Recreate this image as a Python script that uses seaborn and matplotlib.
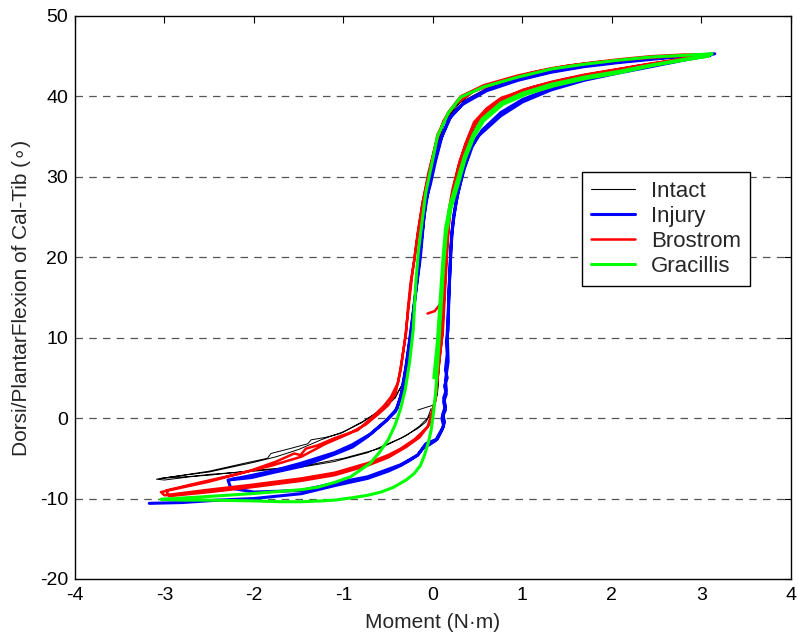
import numpy as np
import pandas as pd
import matplotlib
matplotlib.use("Agg")
import matplotlib.pyplot as plt
import seaborn as sns
from matplotlib.lines import Line2D

sns.set_theme(style="white")
plt.rcParams["font.family"] = ["Liberation Sans", "DejaVu Sans"]
plt.rcParams["axes.unicode_minus"] = False

# Intact (black)
intact_start = [(-0.17, 1.0), (0.0, 1.6), (0.05, 3.0), (0.08, 8.0), (0.11, 14.0), (0.14, 20.0),
                (0.18, 25.0), (0.24, 28.5), (0.32, 32.0), (0.42, 35.0), (0.55, 37.3), (0.76, 39.2),
                (1.13, 40.9), (1.5, 42.0), (1.88, 42.9), (2.3, 43.8), (2.7, 44.5), (3.05, 45.1)]
intact_unload1 = [(3.05, 45.1), (2.7, 45.0), (2.3, 44.7), (1.88, 44.2), (1.5, 43.6), (1.13, 42.9),
                  (0.76, 41.9), (0.45, 40.5), (0.25, 38.8), (0.12, 36.5), (0.03, 33.5), (-0.04, 30.0),
                  (-0.1, 26.0), (-0.15, 21.0), (-0.2, 16.0), (-0.24, 11.0), (-0.29, 7.0), (-0.35, 4.0),
                  (-0.45, 2.2), (-0.62, 0.7), (-0.8, -0.6), (-1.03, -1.9), (-1.2, -2.4), (-1.36, -2.7),
                  (-1.4, -3.2), (-1.6, -3.8), (-1.81, -4.4), (-1.85, -5.0), (-2.1, -5.6), (-2.5, -6.6),
                  (-3.09, -7.6)]
intact_load1 = [(-3.09, -7.6), (-3.0, -7.7), (-2.5, -7.0), (-2.0, -6.6), (-1.47, -6.1), (-1.1, -5.4),
                (-0.73, -4.3), (-0.36, -2.5), (-0.17, -1.3), (-0.08, -0.5), (0.0, 1.0), (0.05, 3.0),
                (0.08, 8.0), (0.12, 15.0), (0.15, 21.0), (0.19, 25.5), (0.25, 29.0), (0.33, 32.5),
                (0.44, 35.5), (0.58, 37.6), (0.8, 39.4), (1.13, 40.9), (1.5, 42.0), (1.88, 42.9),
                (2.3, 43.8), (2.7, 44.4), (3.0, 44.9)]
intact_unload2 = [(3.0, 44.9), (2.5, 44.8), (2.0, 44.3), (1.5, 43.5), (1.0, 42.4), (0.6, 41.0),
                  (0.3, 39.2), (0.13, 36.8), (0.02, 33.0), (-0.06, 29.0), (-0.12, 24.0), (-0.17, 19.0),
                  (-0.22, 13.0), (-0.27, 8.0), (-0.33, 4.5), (-0.42, 2.5), (-0.6, 0.9), (-0.78, -0.4),
                  (-1.0, -1.7), (-1.25, -2.7), (-1.5, -3.9), (-1.75, -4.8), (-2.0, -5.5), (-2.5, -6.7),
                  (-3.05, -7.5)]
intact_load2 = [(-3.05, -7.5), (-2.5, -7.1), (-2.0, -6.5), (-1.47, -6.0), (-1.0, -5.0), (-0.6, -3.8),
                (-0.3, -2.2), (-0.15, -1.0), (-0.06, 0.0), (-0.02, 1.2)]

# Injury (blue)
injury_load1 = [(-3.17, -10.6), (-2.8, -10.5), (-2.4, -10.2), (-2.0, -10.0), (-1.47, -9.4), (-1.1, -8.4),
                (-0.73, -7.5), (-0.5, -6.6), (-0.36, -5.9), (-0.25, -5.2), (-0.17, -4.6), (-0.1, -3.6),
                (-0.04, -3.3), (0.03, -2.8), (0.08, -1.8), (0.12, -1.0), (0.1, 0.0), (0.14, 1.0),
                (0.12, 2.0), (0.15, 3.0), (0.13, 4.0), (0.16, 5.0), (0.14, 6.0), (0.16, 8.0),
                (0.15, 9.5), (0.17, 11.0), (0.18, 16.0), (0.2, 21.0), (0.23, 25.0), (0.28, 28.0),
                (0.35, 31.0), (0.44, 33.8), (0.55, 35.8), (0.76, 38.0), (1.0, 39.6), (1.32, 41.0),
                (1.69, 42.2), (2.07, 43.0), (2.44, 43.8), (2.8, 44.6), (3.15, 45.3)]
injury_unload1 = [(3.15, 45.3), (2.8, 45.0), (2.44, 44.7), (2.07, 44.3), (1.69, 43.8), (1.32, 43.1),
                  (0.95, 42.1), (0.6, 40.8), (0.35, 39.3), (0.2, 37.5), (0.1, 35.0), (0.03, 32.0),
                  (-0.03, 29.0), (-0.08, 27.0), (-0.12, 23.0), (-0.16, 18.8), (-0.21, 14.0),
                  (-0.25, 10.6), (-0.3, 6.5), (-0.36, 2.6), (-0.42, 0.8), (-0.55, -0.6), (-0.73, -2.3),
                  (-0.9, -3.6), (-1.1, -4.5), (-1.47, -6.0), (-1.8, -6.8), (-2.03, -7.4), (-2.29, -7.7)]
injury_load2 = [(-2.29, -7.7), (-2.26, -8.7), (-2.0, -9.2), (-1.47, -9.0), (-1.1, -8.1), (-0.73, -7.3),
                (-0.36, -5.8), (-0.17, -4.6), (-0.08, -3.2), (0.05, -2.6), (0.1, -1.5), (0.13, -0.5),
                (0.11, 0.5), (0.14, 1.5), (0.12, 2.5), (0.15, 3.5), (0.14, 4.7), (0.17, 7.0),
                (0.16, 10.6), (0.19, 18.0), (0.21, 23.0), (0.26, 27.0), (0.33, 30.5), (0.42, 33.5),
                (0.5, 35.0), (0.76, 37.6), (1.0, 39.3), (1.32, 40.8), (1.69, 42.0), (2.07, 42.9),
                (2.44, 43.7), (2.8, 44.5), (3.1, 45.1)]
injury_unload2 = [(3.1, 45.1), (2.8, 45.0), (2.44, 44.6), (2.07, 44.2), (1.69, 43.7), (1.32, 43.0),
                  (0.95, 42.0), (0.6, 40.7), (0.33, 39.0), (0.18, 37.2), (0.08, 34.5), (0.01, 31.5),
                  (-0.05, 28.5), (-0.1, 25.0), (-0.14, 20.0), (-0.2, 15.0), (-0.24, 11.0), (-0.29, 7.0),
                  (-0.34, 3.5), (-0.4, 1.2), (-0.52, -0.3), (-0.7, -2.0), (-0.9, -3.3), (-1.1, -4.3),
                  (-1.47, -5.6), (-1.8, -6.6), (-2.1, -7.3), (-2.25, -7.6)]

# Brostrom (red)
brostrom_start = [(-0.06, 13.0), (0.02, 13.3), (0.09, 14.3), (0.12, 18.0), (0.15, 21.5), (0.18, 26.0),
                  (0.22, 28.5), (0.3, 32.0), (0.4, 35.0), (0.5, 37.0), (0.76, 39.6), (1.0, 40.8),
                  (1.32, 41.8), (1.69, 42.7), (2.07, 43.4), (2.44, 44.1), (2.8, 44.7), (3.1, 45.2)]
brostrom_unload1 = [(3.1, 45.2), (2.8, 45.2), (2.44, 45.0), (2.07, 44.6), (1.69, 44.1), (1.32, 43.5),
                    (0.95, 42.6), (0.57, 41.4), (0.31, 40.0), (0.17, 38.0), (0.05, 35.2), (-0.03, 31.0),
                    (-0.11, 27.1), (-0.17, 23.0), (-0.21, 19.5), (-0.25, 16.8), (-0.28, 13.5),
                    (-0.3, 10.6), (-0.35, 7.0), (-0.39, 4.4), (-0.47, 2.6), (-0.55, 1.5), (-0.66, 0.3),
                    (-0.84, -1.5), (-1.1, -2.5), (-1.29, -3.4), (-1.42, -3.8), (-1.48, -4.6),
                    (-1.55, -4.4), (-1.75, -5.4), (-2.03, -6.5), (-2.5, -7.9), (-3.04, -9.2)]
brostrom_load1 = [(-3.04, -9.2), (-3.0, -9.6), (-2.5, -8.9), (-2.03, -8.3), (-1.47, -7.5), (-1.1, -6.8),
                  (-0.73, -5.6), (-0.5, -4.6), (-0.36, -3.8), (-0.2, -2.6), (-0.06, -1.1), (0.03, 2.2),
                  (0.05, 4.7), (0.08, 8.0), (0.11, 10.6), (0.15, 18.8), (0.18, 24.5), (0.21, 27.5),
                  (0.28, 31.0), (0.36, 34.0), (0.46, 36.8), (0.6, 38.5), (0.76, 39.8), (1.13, 41.2),
                  (1.5, 42.2), (1.88, 43.0), (2.3, 43.8), (2.7, 44.5), (3.05, 45.1)]
brostrom_unload2 = [(3.05, 45.1), (2.7, 45.0), (2.3, 44.7), (1.88, 44.3), (1.5, 43.8), (1.13, 43.0),
                    (0.76, 41.9), (0.45, 40.6), (0.25, 39.0), (0.12, 37.0), (0.03, 34.0), (-0.05, 30.5),
                    (-0.12, 26.5), (-0.18, 22.0), (-0.23, 18.0), (-0.27, 14.0), (-0.31, 10.0),
                    (-0.36, 6.0), (-0.42, 3.0), (-0.5, 1.6), (-0.6, 0.6), (-0.75, -0.8), (-0.95, -2.0),
                    (-1.2, -3.2), (-1.47, -4.8), (-1.8, -5.9), (-2.2, -7.0), (-2.6, -8.0), (-2.98, -9.0)]
brostrom_load2 = [(-2.98, -9.0), (-2.95, -9.7), (-2.5, -9.2), (-2.03, -8.6), (-1.47, -7.8), (-1.1, -7.1),
                  (-0.73, -5.9), (-0.5, -4.9), (-0.3, -3.6), (-0.15, -2.4), (-0.04, -0.8), (0.02, 2.0),
                  (0.05, 5.0), (0.1, 10.0), (0.13, 16.0), (0.16, 22.0), (0.2, 26.5), (0.26, 30.0),
                  (0.34, 33.2), (0.44, 36.0), (0.58, 38.0), (0.8, 39.6), (1.13, 41.0), (1.5, 42.0),
                  (1.88, 42.9), (2.3, 43.7), (2.7, 44.4), (3.0, 44.9)]

# Gracillis (green)
gracillis_start = [(0.01, 5.0), (0.05, 9.5), (0.08, 14.5), (0.11, 19.5), (0.14, 23.5), (0.19, 26.5),
                   (0.27, 29.5), (0.35, 32.5), (0.45, 35.3), (0.55, 37.2), (0.76, 39.2), (1.0, 40.4),
                   (1.32, 41.5), (1.69, 42.4), (2.07, 43.1), (2.44, 43.9), (2.8, 44.6), (3.05, 45.0),
                   (3.12, 45.3)]
gracillis_unload = [(3.12, 45.3), (2.8, 45.1), (2.44, 44.9), (2.07, 44.5), (1.69, 44.0), (1.32, 43.4),
                    (0.95, 42.4), (0.57, 41.2), (0.31, 39.9), (0.17, 37.9), (0.05, 35.0), (-0.02, 31.2),
                    (-0.08, 28.0), (-0.12, 24.5), (-0.16, 21.0), (-0.19, 17.0), (-0.22, 11.0),
                    (-0.26, 7.0), (-0.31, 3.5), (-0.36, 1.2), (-0.42, -0.8), (-0.5, -2.7), (-0.6, -4.3),
                    (-0.7, -5.6), (-0.92, -7.3), (-1.1, -8.0), (-1.29, -8.6), (-1.47, -8.9),
                    (-2.03, -9.4), (-2.59, -9.8), (-3.04, -10.1)]
gracillis_load = [(-3.04, -10.1), (-2.8, -10.2), (-2.5, -10.2), (-2.0, -10.3), (-1.7, -10.4),
                  (-1.47, -10.4), (-1.25, -10.3), (-1.1, -10.2), (-0.9, -9.9), (-0.73, -9.6),
                  (-0.58, -9.2), (-0.44, -8.6), (-0.3, -7.7), (-0.21, -6.9), (-0.14, -5.9),
                  (-0.1, -4.8), (-0.05, -3.0), (-0.02, -1.5), (0.01, 1.0), (0.03, 3.1), (0.06, 8.0),
                  (0.09, 13.5), (0.12, 19.0), (0.15, 23.0), (0.2, 26.0), (0.28, 29.0), (0.36, 32.2),
                  (0.46, 35.0), (0.57, 37.0), (0.78, 39.0), (1.05, 40.3), (1.35, 41.3), (1.7, 42.2),
                  (2.07, 42.9), (2.44, 43.8), (2.8, 44.5), (3.08, 45.0)]

traces = {
    "Intact": [intact_start, intact_unload1, intact_load1, intact_unload2, intact_load2],
    "Injury": [injury_load1, injury_unload1, injury_load2, injury_unload2],
    "Brostrom": [brostrom_start, brostrom_unload1, brostrom_load1, brostrom_unload2, brostrom_load2],
    "Gracillis": [gracillis_start, gracillis_unload, gracillis_load],
}
colors = {"Intact": "black", "Injury": "#0000ff", "Brostrom": "#ff0000", "Gracillis": "#00ff00"}
widths = {"Intact": 0.7, "Injury": 2.2, "Brostrom": 1.8, "Gracillis": 2.2}

fig = plt.figure(figsize=(7.98, 6.39), dpi=100)
ax = fig.add_axes([0.094, 0.094, 0.897, 0.881])

for name, parts in traces.items():
    pts = [p for part in parts for p in part]
    df = pd.DataFrame(pts, columns=["moment", "angle"])
    sns.lineplot(data=df, x="moment", y="angle", sort=False, estimator=None,
                 color=colors[name], lw=widths[name], ax=ax)

ax.set_xlim(-4, 4)
ax.set_ylim(-20, 50)
ax.set_xticks(np.arange(-4, 5, 1))
ax.set_yticks(np.arange(-20, 51, 10))
for yv in range(-10, 50, 10):
    ax.axhline(yv, color="#555555", lw=0.9, ls=(0, (6, 5)), zorder=0)

ax.tick_params(direction="in", top=True, right=True, length=5, width=0.8,
               labelsize=14, colors="black")
ax.tick_params(axis="x", pad=6)
ax.tick_params(axis="y", pad=5)
for sp in ax.spines.values():
    sp.set_color("black")
    sp.set_linewidth(1.0)

ax.set_xlabel("Moment (N\u00b7m)", fontsize=15, labelpad=6)
ax.set_ylabel("Dorsi/PlantarFlexion of Cal-Tib (\u2218)", fontsize=15, labelpad=6)

handles = [Line2D([], [], color=colors[n], lw=widths[n] if n != "Intact" else 0.8) for n in traces]
leg = ax.legend(handles, list(traces.keys()), loc="upper left", bbox_to_anchor=(0.708, 0.723),
                borderaxespad=0, fontsize=16, frameon=True, fancybox=False, framealpha=1,
                handlelength=2.0, handletextpad=0.7, labelspacing=0.18, borderpad=0.4)
leg.get_frame().set_edgecolor("black")
leg.get_frame().set_linewidth(1.0)

fig.savefig("out.png", dpi=100)
